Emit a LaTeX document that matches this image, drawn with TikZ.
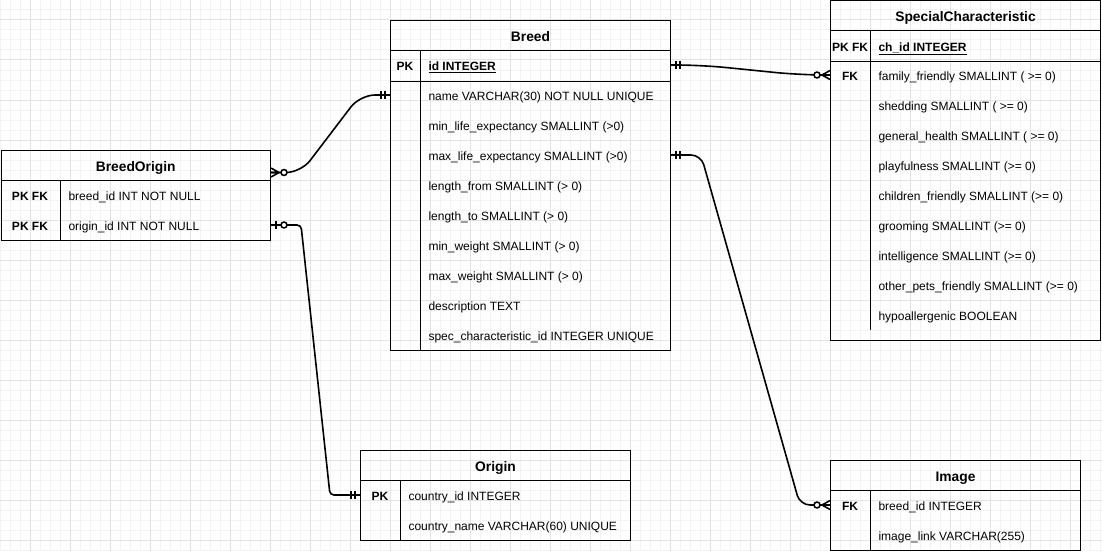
\documentclass[tikz,border=0pt]{standalone}
\usepackage{fontspec}
\setmainfont{Liberation Sans}
\usetikzlibrary{calc}
\definecolor{gridmaj}{HTML}{E3E3E3}
\definecolor{gridmin}{HTML}{F3F3F3}
\begin{document}
\begin{tikzpicture}[x=1pt,y=-1pt,line width=1pt,font=\fontsize{12}{14}\selectfont,
  tbl/.style={draw,inner sep=0pt,anchor=north west},
  hdr/.style={draw,inner sep=0pt,anchor=north west,minimum height=30pt,font=\fontsize{13.8}{16}\selectfont\bfseries,text height=12pt,text depth=0pt},
  key/.style={inner sep=0pt,font=\fontsize{12}{14}\selectfont\bfseries,text height=10.5pt,text depth=0pt},
  field/.style={inner sep=0pt,anchor=west,text height=10.5pt,text depth=0pt},
  rel/.style={line width=1.6pt,line join=round},
  mone/.pic={\draw[rel] (-5,-4) -- (-5,4) (-9,-4) -- (-9,4);},
  zmany/.pic={\draw[rel] (0,-4.5) -- (-8,0) -- (0,4.5) (-8,0) -- (0,0); \draw[rel,fill=white] (-13,0) circle (3pt);},
  zone/.pic={\draw[rel] (-5,-4) -- (-5,4); \draw[rel,fill=white] (-13,0) circle (3pt);}]
  \fill[white] (0,0) rectangle (1102,551);
  \useasboundingbox (0,0) rectangle (1102,551);
  % background grid
  \foreach \gx in {0,10,...,1100} \draw[gridmin] (\gx,0) -- (\gx,551);
  \foreach \gy in {0,10,...,550} \draw[gridmin] (0,\gy) -- (1102,\gy);
  \foreach \gx in {30,70,...,1100} \draw[gridmaj] (\gx,0) -- (\gx,551);
  \foreach \gy in {20,60,...,550} \draw[gridmaj] (0,\gy) -- (1102,\gy);

  % BreedOrigin
  \node[tbl,minimum width=269.5pt,minimum height=90pt] (bo) at (0.5,150) {};
  \node[hdr,minimum width=269.5pt] (bo-h) at (0.5,150) {BreedOrigin};
  \draw ([xshift=59.5pt]bo-h.south west) -- ([xshift=59.5pt]bo.south west);
  \node[key] (bo-k0) at (30,195) {PK FK};
  \node[key] (bo-k1) at (30,225) {PK FK};
  \node[field] (bo-f0) at (68,195) {breed\_id INT NOT NULL};
  \node[field] (bo-f1) at (68,225) {origin\_id INT NOT NULL};

  % Breed
  \node[tbl,minimum width=280pt,minimum height=330pt] (breed) at (390,20) {};
  \node[hdr,minimum width=280pt] (breed-h) at (390,20) {Breed};
  \draw ([xshift=30pt]breed-h.south west) -- ([xshift=30pt]breed.south west);
  \draw ([yshift=-30pt]breed-h.south west) -- ([yshift=-30pt]breed-h.south east);
  \node[key] (breed-k0) at (405,65) {PK};
  \node[field] (breed-f0) at (428,65) {\bfseries\underline{id INTEGER}};
  \node[field] (breed-f1) at (428,95) {name VARCHAR(30) NOT NULL UNIQUE};
  \node[field] (breed-f2) at (428,125) {min\_life\_expectancy SMALLINT (>0)};
  \node[field] (breed-f3) at (428,155) {max\_life\_expectancy SMALLINT (>0)};
  \node[field] (breed-f4) at (428,185) {length\_from SMALLINT (> 0)};
  \node[field] (breed-f5) at (428,215) {length\_to SMALLINT (> 0)};
  \node[field] (breed-f6) at (428,245) {min\_weight SMALLINT (> 0)};
  \node[field] (breed-f7) at (428,275) {max\_weight SMALLINT (> 0)};
  \node[field] (breed-f8) at (428,305) {description TEXT};
  \node[field] (breed-f9) at (428,335) {spec\_characteristic\_id INTEGER UNIQUE};

  % SpecialCharacteristic
  \node[tbl,minimum width=270pt,minimum height=339.5pt] (sc) at (830,0.5) {};
  \node[hdr,minimum width=270pt] (sc-h) at (830,0.5) {SpecialCharacteristic};
  \draw ([xshift=40pt]sc-h.south west) -- (870,330);
  \draw ([yshift=-30pt]sc-h.south west) -- ([yshift=-30pt]sc-h.south east);
  \node[key] (sc-k0) at (850,46) {PK FK};
  \node[key] (sc-k1) at (850,75) {FK};
  \node[field] (sc-f0) at (878,46) {\bfseries\underline{ch\_id INTEGER}};
  \node[field] (sc-f1) at (878,75) {family\_friendly SMALLINT ( >= 0)};
  \node[field] (sc-f2) at (878,105) {shedding SMALLINT ( >= 0)};
  \node[field] (sc-f3) at (878,135) {general\_health SMALLINT ( >= 0)};
  \node[field] (sc-f4) at (878,165) {playfulness SMALLINT (>= 0)};
  \node[field] (sc-f5) at (878,195) {children\_friendly SMALLINT (>= 0)};
  \node[field] (sc-f6) at (878,225) {grooming SMALLINT (>= 0)};
  \node[field] (sc-f7) at (878,255) {intelligence SMALLINT (>= 0)};
  \node[field] (sc-f8) at (878,285) {other\_pets\_friendly SMALLINT (>= 0)};
  \node[field] (sc-f9) at (878,315) {hypoallergenic BOOLEAN};

  % Origin
  \node[tbl,minimum width=270pt,minimum height=90pt] (org) at (360,450) {};
  \node[hdr,minimum width=270pt] (org-h) at (360,450) {Origin};
  \draw ([xshift=40pt]org-h.south west) -- ([xshift=40pt]org.south west);
  \node[key] (org-k0) at (380,495) {PK};
  \node[field] (org-f0) at (408,495) {country\_id INTEGER};
  \node[field] (org-f1) at (408,525) {country\_name VARCHAR(60) UNIQUE};

  % Image
  \node[tbl,minimum width=250pt,minimum height=89.5pt] (img) at (830,460) {};
  \node[hdr,minimum width=250pt] (img-h) at (830,460) {Image};
  \draw ([xshift=40pt]img-h.south west) -- ([xshift=40pt]img.south west);
  \node[key] (img-k0) at (850,505) {FK};
  \node[field] (img-f0) at (878,505) {breed\_id INTEGER};
  \node[field] (img-f1) at (878,535) {image\_link VARCHAR(255)};

  % relations
  \coordinate (bo-out) at ([yshift=-7pt]bo-h.east);
  \coordinate (breed-in) at (breed.west |- breed-f1);
  \draw[rel,rounded corners=15pt] (bo-out) -- ++(30,0) -- ($(breed-in)+(-30,0)$) -- (breed-in);
  \pic[rotate=180] at (bo-out) {zmany};
  \pic at (breed-in) {mone};

  \coordinate (bo-org) at (bo.east |- bo-f1);
  \coordinate (org-in) at (org.west |- org-f0);
  \draw[rel,rounded corners=4pt] (bo-org) -- ++(30,0) -- ($(org-in)+(-30,0)$) -- (org-in);
  \pic[rotate=180] at (bo-org) {zone};
  \pic at (org-in) {mone};

  \coordinate (breed-id) at (breed.east |- breed-f0);
  \coordinate (sc-in) at (sc.west |- sc-f1);
  \draw[rel,rounded corners=25pt] (breed-id) -- ++(30,0) -- ($(sc-in)+(-30,0)$) -- (sc-in);
  \pic[rotate=180] at (breed-id) {mone};
  \pic at (sc-in) {zmany};

  \coordinate (breed-max) at (breed.east |- breed-f3);
  \coordinate (img-in) at (img.west |- img-f0);
  \draw[rel,rounded corners=10pt] (breed-max) -- ++(30,0) -- ($(img-in)+(-30,0)$) -- (img-in);
  \pic[rotate=180] at (breed-max) {mone};
  \pic at (img-in) {zmany};
\end{tikzpicture}
\end{document}
